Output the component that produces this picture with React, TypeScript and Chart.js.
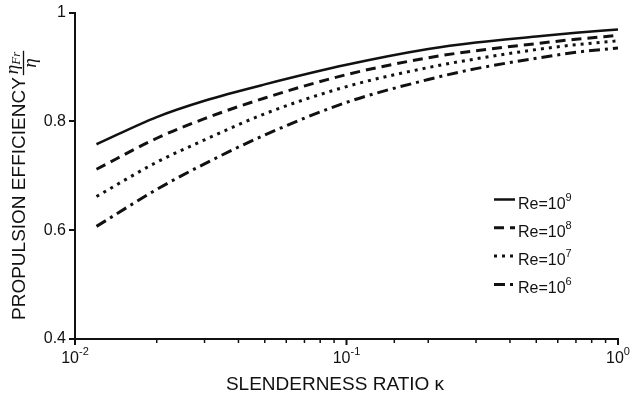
import React, { useEffect, useRef } from 'react';
import { Chart, registerables } from 'chart.js';

Chart.register(...registerables);

// slenderness ratio kappa (x, log scale)
const kappa = [0.012, 0.02, 0.03, 0.05, 0.1, 0.2, 0.3, 0.5, 0.7, 1];
// propulsion efficiency for each Reynolds number
const re9 = [0.758, 0.808, 0.838, 0.868, 0.904, 0.933, 0.945, 0.956, 0.963, 0.969];
const re8 = [0.712, 0.769, 0.805, 0.843, 0.886, 0.917, 0.930, 0.943, 0.951, 0.958];
const re7 = [0.662, 0.725, 0.766, 0.814, 0.864, 0.899, 0.915, 0.932, 0.941, 0.948];
const re6 = [0.607, 0.675, 0.722, 0.775, 0.835, 0.877, 0.897, 0.916, 0.927, 0.935];

const seriesBase = ['Re=10', 'Re=10', 'Re=10', 'Re=10'];
const seriesExp = ['9', '8', '7', '6'];
const seriesValues = [re9, re8, re7, re6];
const seriesDash = [[], [10, 6], [3, 5], [11, 5, 3, 5]];
const seriesWidth = [2.5, 3, 3, 3];

const xMin = 0.01;
const xMax = 1;
const yMin = 0.4;
const yMax = 1;
const yStep = 0.2;

const xTitle = 'SLENDERNESS RATIO \u03BA';
const yTitle = 'PROPULSION EFFICIENCY';

const INK = '#111111';
const SANS = '"Liberation Sans", Arial, sans-serif';
const SERIF = '"Liberation Serif", "DejaVu Serif", serif';

const decorPlugin = {
  id: 'decor',
  afterDraw(chart: any) {
    const ctx: CanvasRenderingContext2D = chart.ctx;
    const xs = chart.scales.x;
    const area = chart.chartArea;
    ctx.save();
    ctx.strokeStyle = INK;
    ctx.fillStyle = INK;

    // x ticks (major and minor) and labels
    xs.ticks.forEach((t: any) => {
      const v = t.value;
      const px = xs.getPixelForValue(v);
      const lg = Math.log10(v);
      const major = Math.abs(lg - Math.round(lg)) < 1e-6;
      ctx.beginPath();
      ctx.lineWidth = major ? 2 : 1.5;
      ctx.moveTo(px, area.bottom);
      ctx.lineTo(px, area.bottom + (major ? 6 : 4));
      ctx.stroke();
      if (major) {
        const base = '10';
        const exp = String(Math.round(lg));
        ctx.font = '16px ' + SANS;
        const wb = ctx.measureText(base).width;
        ctx.font = '11px ' + SANS;
        const we = ctx.measureText(exp).width;
        const start = px - (wb + we) / 2;
        ctx.textAlign = 'left';
        ctx.textBaseline = 'alphabetic';
        ctx.font = '16px ' + SANS;
        ctx.fillText(base, start, 363);
        ctx.font = '11px ' + SANS;
        ctx.fillText(exp, start + wb, 355);
      }
    });

    // x title
    ctx.font = '19px ' + SANS;
    ctx.textAlign = 'center';
    ctx.textBaseline = 'alphabetic';
    ctx.fillText(xTitle, 335, 390);

    // y title with fraction
    ctx.save();
    ctx.translate(20, 320);
    ctx.rotate(-Math.PI / 2);
    ctx.font = '19px ' + SANS;
    ctx.textAlign = 'left';
    ctx.textBaseline = 'middle';
    ctx.fillText(yTitle, 0, 0);
    const tw = ctx.measureText(yTitle).width;
    const u0 = tw + 3;
    ctx.textBaseline = 'alphabetic';
    ctx.font = 'italic 19px ' + SERIF;
    const we1 = ctx.measureText('\u03B7').width;
    ctx.fillText('\u03B7', u0, -2);
    ctx.font = 'italic 13px ' + SERIF;
    const wFr = ctx.measureText('Fr').width;
    ctx.fillText('Fr', u0 + we1, 0);
    const numW = we1 + wFr;
    ctx.beginPath();
    ctx.lineWidth = 1.3;
    ctx.moveTo(u0 - 1, 3.5);
    ctx.lineTo(u0 + numW + 1, 3.5);
    ctx.stroke();
    ctx.font = 'italic 19px ' + SERIF;
    ctx.textAlign = 'center';
    ctx.fillText('\u03B7', u0 + numW / 2, 16);
    ctx.restore();

    // legend
    chart.data.datasets.forEach((ds: any, i: number) => {
      const yc = 203.5 + i * 28.3;
      ctx.beginPath();
      ctx.setLineDash(ds.borderDash || []);
      ctx.lineWidth = ds.borderWidth;
      ctx.lineCap = 'butt';
      ctx.moveTo(494, yc - 4);
      ctx.lineTo(515, yc - 4);
      ctx.stroke();
      ctx.setLineDash([]);
      ctx.textAlign = 'left';
      ctx.textBaseline = 'alphabetic';
      ctx.font = '16px ' + SANS;
      ctx.fillText(seriesBase[i], 518, yc + 5);
      const w = ctx.measureText(seriesBase[i]).width;
      ctx.font = '11px ' + SANS;
      ctx.fillText(seriesExp[i], 518 + w, yc - 3);
    });

    ctx.restore();
  },
};

export default function App() {
  const ref = useRef<HTMLCanvasElement>(null);
  useEffect(() => {
    if (!ref.current) return;
    const datasets = seriesValues.map((vals, i) => ({
      label: seriesBase[i] + seriesExp[i],
      data: kappa.map((k, j) => ({ x: k, y: vals[j] })),
      borderColor: INK,
      backgroundColor: INK,
      borderWidth: seriesWidth[i],
      borderDash: seriesDash[i],
      borderCapStyle: 'butt',
      pointRadius: 0,
      fill: false,
      cubicInterpolationMode: 'monotone',
    }));
    const chart = new Chart(ref.current, {
      type: 'line',
      data: { datasets } as any,
      options: {
        responsive: false,
        animation: false,
        layout: { padding: { top: 10, right: 12, bottom: 0, left: 0 } },
        plugins: { legend: { display: false }, tooltip: { enabled: false } },
        scales: {
          x: {
            type: 'logarithmic',
            min: xMin,
            max: xMax,
            grid: { display: false, drawTicks: false },
            border: { display: true, color: INK, width: 2 },
            ticks: { display: false, autoSkip: false },
            afterFit: (s: any) => { s.height = 61; },
          },
          y: {
            type: 'linear',
            min: yMin,
            max: yMax,
            grid: { drawOnChartArea: false, drawTicks: true, tickLength: 6, color: INK, lineWidth: 2 },
            border: { display: true, color: INK, width: 2 },
            ticks: {
              stepSize: yStep,
              padding: 3,
              color: INK,
              font: { family: SANS, size: 16 },
              callback: (v: any) => (Math.abs(v - 1) < 1e-9 ? '1' : Number(v).toFixed(1)),
            },
            afterFit: (s: any) => { s.width = 75; },
          },
        },
      } as any,
      plugins: [decorPlugin],
    });
    return () => chart.destroy();
  }, []);
  return (
    <div style={{ position: 'absolute', left: 0, top: 0, width: 630, height: 400, background: '#fff' }}>
      <canvas ref={ref} width={630} height={400} style={{ display: 'block' }} />
    </div>
  );
}
